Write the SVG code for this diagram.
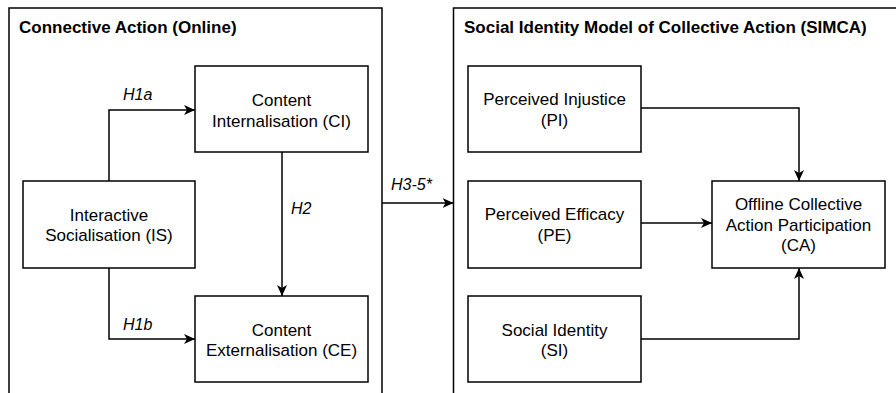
<svg xmlns="http://www.w3.org/2000/svg" width="896" height="393" viewBox="0 0 896 393">
<style>
.box{fill:#fff;stroke:#000;stroke-width:1.5}
.cont{fill:none;stroke:#000;stroke-width:1.5}
.t{font-family:"Liberation Sans",Arial,sans-serif;font-size:17px;fill:#000;text-anchor:middle}
.h{font-family:"Liberation Sans",Arial,sans-serif;font-size:17px;font-weight:bold;fill:#000}
.l{font-family:"Liberation Sans",Arial,sans-serif;font-size:16px;font-style:italic;fill:#000}
.c{fill:none;stroke:#000;stroke-width:1.5;marker-end:url(#arr)}
</style>
<defs>
<marker id="arr" markerUnits="userSpaceOnUse" markerWidth="12" markerHeight="10" refX="11" refY="5" orient="auto">
<path d="M0,0 L11,5 L0,10 L3,5 z" fill="#000"/>
</marker>
</defs>
<g id="container-connective">
<rect class="cont" x="9" y="8" width="373" height="400"/>
<text class="h" x="19" y="33">Connective Action (Online)</text>
</g>
<g id="container-simca">
<rect class="cont" x="453.5" y="8" width="460" height="400"/>
<text class="h" x="464" y="33">Social Identity Model of Collective Action (SIMCA)</text>
</g>
<g id="connectors">
<path class="c" d="M109,181 V110 H195"/>
<path class="c" d="M109,268 V339 H195"/>
<path class="c" d="M282,152 V296"/>
<path class="c" d="M382,203 H453.5"/>
<path class="c" d="M641,108 H799 V181"/>
<path class="c" d="M641,223 H712"/>
<path class="c" d="M641,339 H799 V268"/>
<text class="l" x="123" y="100">H1a</text>
<text class="l" x="123" y="330">H1b</text>
<text class="l" x="291" y="214">H2</text>
<text class="l" x="391" y="190">H3-5*</text>
</g>
<g id="node-CI">
<rect class="box" x="195" y="66" width="173" height="86"/>
<text class="t" x="281.5" y="106">Content</text>
<text class="t" x="281.5" y="127">Internalisation (CI)</text>
</g>
<g id="node-IS">
<rect class="box" x="23" y="181" width="172" height="87"/>
<text class="t" x="109" y="221">Interactive</text>
<text class="t" x="109" y="241">Socialisation (IS)</text>
</g>
<g id="node-CE">
<rect class="box" x="195" y="296" width="173" height="86"/>
<text class="t" x="281.5" y="336">Content</text>
<text class="t" x="281.5" y="356">Externalisation (CE)</text>
</g>
<g id="node-PI">
<rect class="box" x="468" y="66" width="173" height="86"/>
<text class="t" x="554.5" y="105">Perceived Injustice</text>
<text class="t" x="554.5" y="126">(PI)</text>
</g>
<g id="node-PE">
<rect class="box" x="468" y="181" width="173" height="87"/>
<text class="t" x="554.5" y="220">Perceived Efficacy</text>
<text class="t" x="554.5" y="241">(PE)</text>
</g>
<g id="node-SI">
<rect class="box" x="468" y="296" width="173" height="86"/>
<text class="t" x="554.5" y="336">Social Identity</text>
<text class="t" x="554.5" y="356">(SI)</text>
</g>
<g id="node-CA">
<rect class="box" x="712" y="181" width="173" height="87"/>
<text class="t" x="798.5" y="210">Offline Collective</text>
<text class="t" x="798.5" y="231">Action Participation</text>
<text class="t" x="798.5" y="251">(CA)</text>
</g>
</svg>
